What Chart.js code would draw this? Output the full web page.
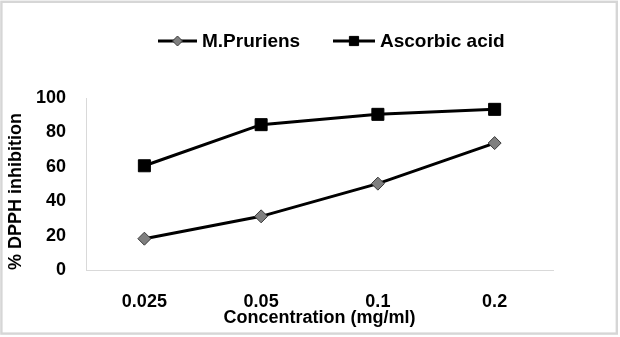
<!DOCTYPE html>
<html>
<head>
<meta charset="utf-8">
<script src="https://cdn.jsdelivr.net/npm/chart.js@4/dist/chart.umd.min.js"></script>
<style>
  html, body { margin: 0; padding: 0; background: #ffffff; }
  #wrap { width: 620px; height: 337px; }
</style>
</head>
<body>
<div id="wrap"><canvas id="chart" width="620" height="337"></canvas></div>
<script>
// Concentrations tested (mg/ml)
const concentrations = ['0.025', '0.05', '0.1', '0.2'];
// % DPPH radical scavenging
const mPruriens = [18.2, 31.2, 50.2, 73.8];
const ascorbicAcid = [60.6, 84.5, 90.5, 93.4];
// Y axis range and step
const yMin = 0;
const yMax = 100;
const yStep = 20;

const FONT = '"Liberation Sans", Arial, sans-serif';
const AXIS_GREY = '#d9d9d9';

// Light grey frame around the whole figure
const framePlugin = {
  id: 'frame',
  beforeDraw(chart) {
    const ctx = chart.ctx;
    ctx.save();
    ctx.fillStyle = '#ffffff';
    ctx.fillRect(0, 0, chart.width, chart.height);
    ctx.strokeStyle = '#d6d6d6';
    ctx.lineWidth = 2.4;
    ctx.strokeRect(1.4, 1.8, chart.width - 4.6, chart.height - 5.2);
    ctx.restore();
  }
};

// Legend with a line segment and marker for each series
const lineLegendPlugin = {
  id: 'lineLegend',
  afterDraw(chart) {
    const ctx = chart.ctx;
    const y = 41;
    const items = [
      { ds: 0, x0: 158, x1: 197, tx: 202, r: 5 },
      { ds: 1, x0: 333, x1: 375, tx: 380, r: 6.5 }
    ];
    ctx.save();
    items.forEach(it => {
      const ds = chart.data.datasets[it.ds];
      ctx.strokeStyle = ds.borderColor;
      ctx.lineWidth = ds.borderWidth;
      ctx.beginPath();
      ctx.moveTo(it.x0, y);
      ctx.lineTo(it.x1, y);
      ctx.stroke();
      ctx.fillStyle = ds.pointBackgroundColor;
      ctx.strokeStyle = ds.pointBorderColor;
      ctx.lineWidth = 1;
      Chart.helpers.drawPoint(ctx, {
        pointStyle: ds.pointStyle,
        radius: it.r,
        borderWidth: 1
      }, (it.x0 + it.x1) / 2, y);
      ctx.fillStyle = '#000000';
      ctx.font = 'bold 19px ' + FONT;
      ctx.textAlign = 'left';
      ctx.textBaseline = 'middle';
      ctx.fillText(ds.label, it.tx, y + 1);
    });
    ctx.restore();
  }
};

new Chart(document.getElementById('chart'), {
  type: 'line',
  data: {
    labels: concentrations,
    datasets: [
      {
        label: 'M.Pruriens',
        data: mPruriens,
        borderColor: '#000000',
        borderWidth: 3,
        pointStyle: 'rectRot',
        pointRadius: 6.5,
        pointBackgroundColor: '#7f7f7f',
        pointBorderColor: '#3a3a3a',
        pointBorderWidth: 1,
        tension: 0,
        fill: false
      },
      {
        label: 'Ascorbic acid',
        data: ascorbicAcid,
        borderColor: '#000000',
        borderWidth: 3,
        pointStyle: 'rect',
        pointRadius: 8.5,
        pointBackgroundColor: '#000000',
        pointBorderColor: '#000000',
        pointBorderWidth: 1,
        tension: 0,
        fill: false
      }
    ]
  },
  options: {
    responsive: false,
    animation: false,
    devicePixelRatio: 1,
    layout: { padding: { left: 0, top: 98, right: 67, bottom: 0 } },
    plugins: {
      legend: { display: false },
      tooltip: { enabled: false }
    },
    scales: {
      x: {
        type: 'category',
        offset: true,
        afterFit(scale) { scale.height = 67; },
        grid: { display: false, drawTicks: false },
        border: { display: true, color: AXIS_GREY, width: 1 },
        ticks: {
          color: '#000000',
          padding: 21,
          font: { family: FONT, size: 18, weight: 'bold' }
        },
        title: {
          display: true,
          text: 'Concentration (mg/ml)',
          color: '#000000',
          font: { family: FONT, size: 18, weight: 'bold' },
          padding: { top: 0, bottom: 8 }
        }
      },
      y: {
        min: yMin,
        max: yMax,
        afterFit(scale) { scale.width = 86; },
        grid: { display: false, drawTicks: false },
        border: { display: true, color: AXIS_GREY, width: 1 },
        ticks: {
          stepSize: yStep,
          color: '#000000',
          padding: 20,
          font: { family: FONT, size: 18, weight: 'bold' }
        },
        title: {
          display: true,
          text: '% DPPH inhibition',
          align: 'start',
          color: '#000000',
          font: { family: FONT, size: 18, weight: 'bold' },
          padding: { top: 5, bottom: 0 }
        }
      }
    }
  },
  plugins: [framePlugin, lineLegendPlugin]
});
</script>
</body>
</html>
